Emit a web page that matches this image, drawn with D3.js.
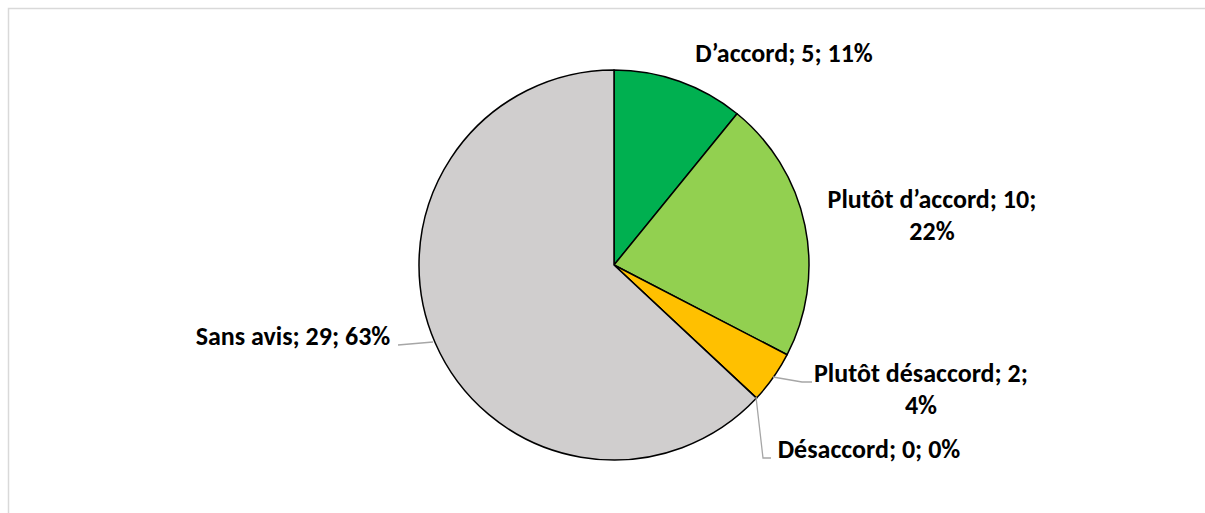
<!DOCTYPE html>
<html><head><meta charset="utf-8">
<script src="https://cdn.jsdelivr.net/npm/d3@7"></script>
<style>
html,body{margin:0;padding:0;background:#fff;}
text{font-family:"Carlito","Lato","Liberation Sans",sans-serif;font-weight:700;fill:#000;}
</style></head>
<body><svg id="c" width="1205" height="513"></svg>
<script>
const categories = ["D\u2019accord","Plutôt d\u2019accord","Plutôt désaccord","Désaccord","Sans avis"];
const values = [5,10,2,0,29];
const percents = ["11%","22%","4%","0%","63%"];
const colors = ["#00B050","#92D050","#FFC000","#FF0000","#D0CECE"];

// label layout (text lines anchored at centre x, first baseline y)
const labelLayout = [
  {x:784, y:62, split:false},
  {x:932, y:208, split:true},
  {x:921, y:382, split:true},
  {x:869, y:458, split:false},
  {x:293, y:345, split:false}
];
const leaderLines = [
  null, null,
  [[773,377],[802,382],[812,382]],
  [[756,397],[763,458],[771,458]],
  [[398,345],[433,342]]
];

const svg = d3.select("#c");
svg.append("rect").attr("x",8.5).attr("y",8.5).attr("width",1205).attr("height",520)
  .attr("fill","#fff").attr("stroke","#d9d9d9").attr("stroke-width",1.5);

const cx=614, cy=265, r=195;
const pie = d3.pie().sort(null).value(d=>d)(values);
const arc = d3.arc().innerRadius(0).outerRadius(r);
const g = svg.append("g").attr("transform",`translate(${cx},${cy})`);
g.selectAll("path").data(pie).join("path")
  .attr("d",arc).attr("fill",(d,i)=>colors[i])
  .attr("stroke","#000").attr("stroke-width",1.5).attr("stroke-linejoin","round");

const line = d3.line();
leaderLines.forEach(pts=>{
  if(!pts) return;
  svg.append("path").attr("d",line(pts)).attr("fill","none").attr("stroke","#a6a6a6").attr("stroke-width",1.3);
});

categories.forEach((c,i)=>{
  const L = labelLayout[i];
  const t = svg.append("text").attr("text-anchor","middle").attr("font-size",26);
  if(L.split){
    t.append("tspan").attr("x",L.x).attr("y",L.y).text(`${c}; ${values[i]};`);
    t.append("tspan").attr("x",L.x).attr("y",L.y+32).text(percents[i]);
  } else {
    t.append("tspan").attr("x",L.x).attr("y",L.y).text(`${c}; ${values[i]}; ${percents[i]}`);
  }
});
</script></body></html>
